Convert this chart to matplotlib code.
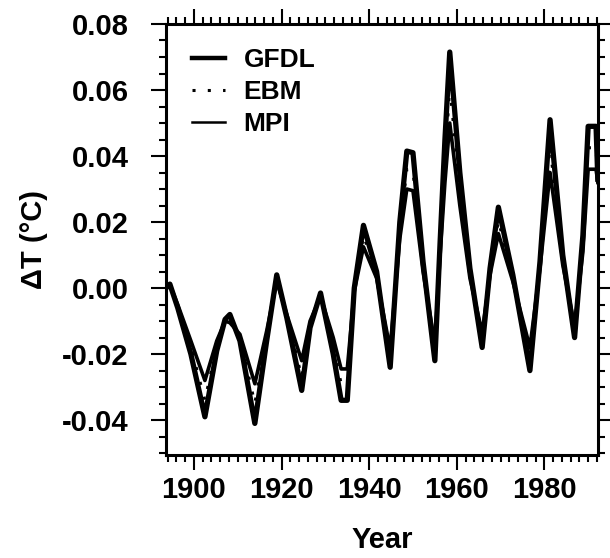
import matplotlib
matplotlib.use("Agg")
import matplotlib.pyplot as plt
from matplotlib.ticker import MultipleLocator

plt.rcParams['font.family'] = ['Liberation Sans', 'DejaVu Sans']
plt.rcParams['font.weight'] = 'bold'

# data
years = [1893.6, 1894.5, 1896.3, 1899.3, 1902.5, 1905.2, 1907.1, 1908.2, 1910.5,
         1913.9, 1916.6, 1918.9, 1921.2, 1924.6, 1926.5, 1928.9, 1931.8, 1933.6,
         1935.0, 1936.6, 1938.7, 1941.7, 1944.8, 1947.0, 1948.6, 1950.0, 1952.3,
         1955.0, 1956.2, 1957.3, 1958.4, 1960.7, 1963.0, 1965.8, 1967.6, 1969.5,
         1972.8, 1976.7, 1979.0, 1981.3, 1984.2, 1986.9, 1988.8, 1990.0, 1991.8,
         1992.2]

gfdl = [0.000, 0.0012, -0.006, -0.020, -0.039, -0.019, -0.0095, -0.008, -0.016,
        -0.041, -0.016, 0.004, -0.009, -0.031, -0.012, -0.0015, -0.020, -0.034,
        -0.034, 0.000, 0.019, 0.005, -0.024, 0.020, 0.0415, 0.041, 0.008,
        -0.022, 0.014, 0.045, 0.0715, 0.035, 0.006, -0.018, 0.006, 0.0245,
        0.004, -0.025, 0.008, 0.051, 0.010, -0.015, 0.016, 0.049, 0.049,
        0.033]

ebm = [0.000, 0.001, -0.0055, -0.018, -0.034, -0.0175, -0.0098, -0.0093, -0.015,
       -0.035, -0.0145, 0.003, -0.0085, -0.027, -0.011, -0.002, -0.0175, -0.029,
       -0.029, -0.0005, 0.016, 0.004, -0.021, 0.0175, 0.036, 0.0355, 0.006,
       -0.0195, 0.012, 0.038, 0.061, 0.030, 0.004, -0.0155, 0.005, 0.0205,
       0.003, -0.0215, 0.007, 0.043, 0.008, -0.013, 0.0135, 0.0425, 0.0425,
       0.0325]

mpi = [0.000, 0.001, -0.005, -0.016, -0.028, -0.016, -0.010, -0.0105, -0.014,
       -0.029, -0.013, 0.002, -0.008, -0.022, -0.010, -0.0025, -0.015, -0.0245,
       -0.0245, -0.001, 0.0125, 0.003, -0.0185, 0.015, 0.030, 0.0295, 0.005,
       -0.017, 0.010, 0.032, 0.050, 0.025, 0.003, -0.0135, 0.004, 0.0165,
       0.002, -0.018, 0.006, 0.035, 0.007, -0.0115, 0.011, 0.036, 0.036,
       0.032]

fig = plt.figure(figsize=(6.1, 5.58), dpi=100)
ax = fig.add_axes([0.272, 0.185, 0.708, 0.772])

ax.plot(years, gfdl, color='black', lw=3.8, label='GFDL')
ax.plot(years, ebm, color='black', lw=2.2, linestyle=(0, (1, 4)), label='EBM')
ax.plot(years, mpi, color='black', lw=2.6, label='MPI')

ax.set_xlim(1893.6, 1992.2)
ax.set_ylim(-0.0505, 0.08)
ax.xaxis.set_major_locator(MultipleLocator(20))
ax.xaxis.set_minor_locator(MultipleLocator(2))
ax.yaxis.set_major_locator(MultipleLocator(0.02))
ax.yaxis.set_minor_locator(MultipleLocator(0.005))
ax.yaxis.set_major_formatter(plt.FuncFormatter(lambda v, p: '%.2f' % v))

ax.tick_params(which='both', direction='out', top=True, right=True, width=1.5)
ax.tick_params(which='major', length=11, labelsize=21)
ax.tick_params(axis='y', which='major', pad=16)
ax.tick_params(axis='x', which='major', pad=4)
ax.tick_params(which='minor', length=5)
for s in ax.spines.values():
    s.set_linewidth(2.2)

ax.set_xlabel('Year', fontsize=21, fontweight='bold', labelpad=16)
ax.set_ylabel('ΔT (°C)', fontsize=21, fontweight='bold', labelpad=10)

leg = ax.legend(loc='upper left', bbox_to_anchor=(0.03, 0.975), frameon=False,
                fontsize=19, handlelength=1.25, handletextpad=0.7,
                labelspacing=0.3, borderpad=0)
leg.get_lines()[0].set_linewidth(3.2)
leg.get_lines()[2].set_linewidth(1.8)

fig.savefig('out.png', dpi=100)
